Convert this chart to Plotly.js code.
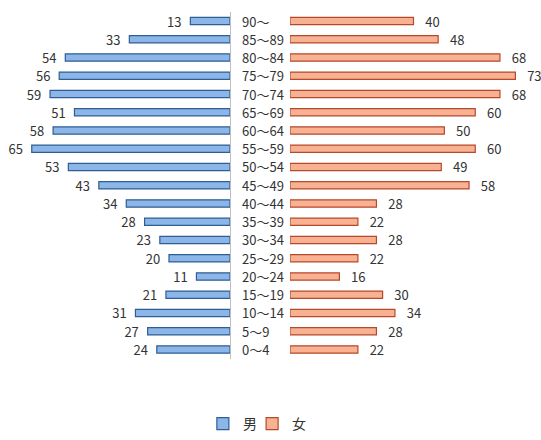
<!DOCTYPE html>
<html>
<head>
<meta charset="utf-8">
<script src="https://cdn.plot.ly/plotly-3.0.1.min.js"></script>
<style>
  html, body { margin: 0; padding: 0; background: #fff; }
  #chart { width: 541px; height: 440px; }
</style>
</head>
<body>
<div id="chart"></div>
<script>
// Age groups, youngest first
const ageGroups = ['0～4', '5～9', '10～14', '15～19', '20～24', '25～29', '30～34', '35～39',
  '40～44', '45～49', '50～54', '55～59', '60～64', '65～69', '70～74', '75～79',
  '80～84', '85～89', '90～'];
const male   = [24, 27, 31, 21, 11, 20, 23, 28, 34, 43, 53, 65, 58, 51, 59, 56, 54, 33, 13];
const female = [22, 28, 34, 30, 16, 22, 28, 22, 28, 58, 49, 60, 50, 60, 68, 73, 68, 48, 40];
const seriesNames = ['男', '女'];

const FONT = '"Noto Sans CJK JP", "Noto Sans", sans-serif';
const NB = '\u00a0';

const traces = [
  {
    type: 'bar', orientation: 'h', name: seriesNames[0], legend: 'legend',
    y: ageGroups, x: male, xaxis: 'x', yaxis: 'y',
    width: 0.4,
    marker: { color: '#8db6e8', line: { color: '#2f5d94', width: 1.2 } },
    text: male, texttemplate: '%{x}' + NB + NB, textposition: 'outside',
    constraintext: 'none',
    textfont: { family: FONT, size: 13, color: '#333' },
    cliponaxis: false, hoverinfo: 'none'
  },
  {
    type: 'bar', orientation: 'h', name: seriesNames[1], legend: 'legend2',
    y: ageGroups, x: female, xaxis: 'x2', yaxis: 'y2',
    width: 0.4,
    marker: { color: '#f9b194', line: { color: '#b54a2a', width: 1.2 } },
    text: female, texttemplate: NB + NB + NB + '%{x}', textposition: 'outside',
    constraintext: 'none',
    textfont: { family: FONT, size: 13, color: '#333' },
    cliponaxis: false, hoverinfo: 'none'
  }
];

// Age-group labels in the gap between the two halves
const labels = ageGroups.map(g => ({
  text: g, xref: 'paper', yref: 'y', x: 0.4436, y: g,
  xanchor: 'left', yanchor: 'middle', showarrow: false,
  font: { family: FONT, size: 13, color: '#333' }
}));

const yBase = {
  type: 'category', categoryorder: 'array', categoryarray: ageGroups,
  range: [-0.5, 18.5], domain: [0.185, 0.973],
  showgrid: false, zeroline: false, showticklabels: false, ticks: ''
};

const legendBase = {
  y: 0, yanchor: 'bottom', xanchor: 'left',
  font: { family: FONT, size: 14, color: '#333' },
  itemwidth: 30, bgcolor: 'rgba(0,0,0,0)'
};

const layout = {
  width: 541, height: 440,
  margin: { l: 0, r: 0, t: 0, b: 0 },
  paper_bgcolor: '#fff', plot_bgcolor: 'rgba(0,0,0,0)',
  font: { family: FONT, size: 13, color: '#333' },
  barmode: 'overlay',
  xaxis: { domain: [0.0023, 0.4251], range: [75, 0], showgrid: false, zeroline: false,
           showticklabels: false, ticks: '', showline: false, fixedrange: true },
  xaxis2: { domain: [0.536, 0.9926], range: [0, 80], showgrid: false, zeroline: false,
            showticklabels: false, ticks: '', showline: false, fixedrange: true, anchor: 'y2' },
  yaxis: Object.assign({}, yBase, { anchor: 'x', side: 'right', showline: true,
           linecolor: '#bfbfbf', linewidth: 1 }),
  yaxis2: Object.assign({}, yBase, { anchor: 'x2', matches: 'y' }),
  annotations: labels,
  showlegend: true,
  legend: Object.assign({}, legendBase, { x: 0.375 }),
  legend2: Object.assign({}, legendBase, { x: 0.466 })
};

Plotly.newPlot('chart', traces, layout, { displayModeBar: false, staticPlot: true });
</script>
</body>
</html>
